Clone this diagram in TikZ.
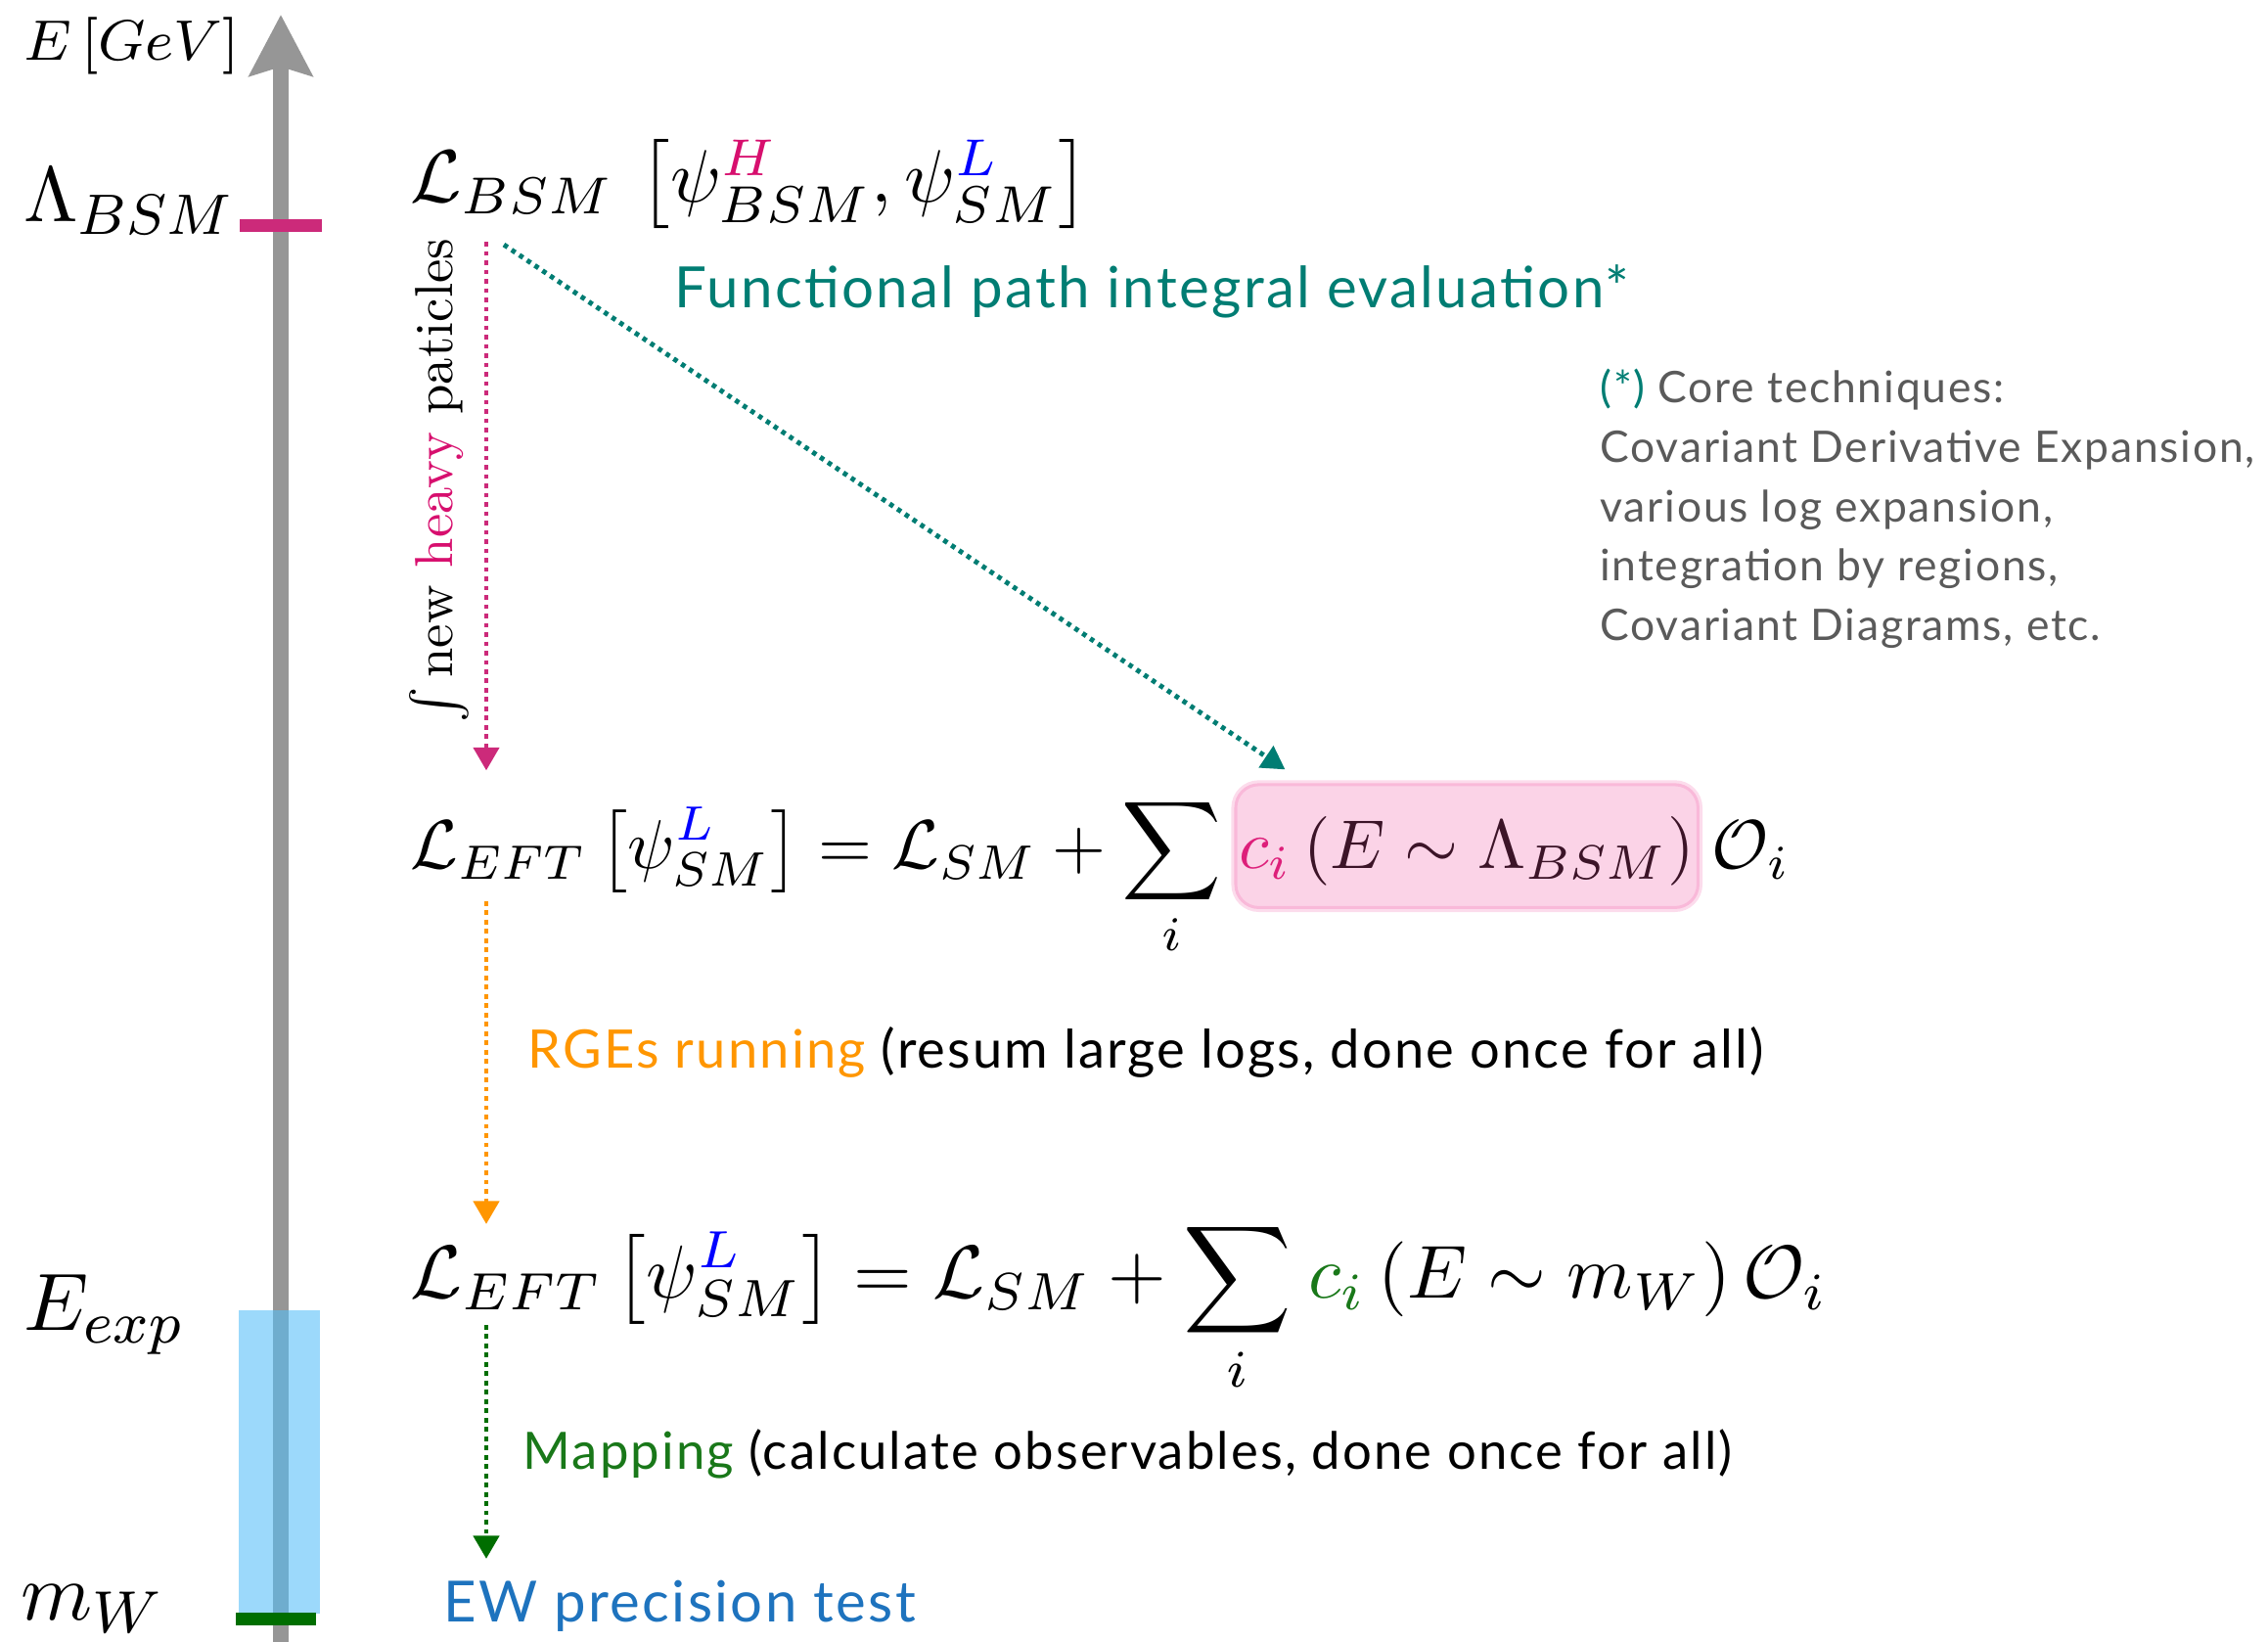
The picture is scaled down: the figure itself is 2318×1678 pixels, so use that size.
\documentclass[tikz,border=0pt]{standalone}
\usepackage{fontspec}
\usepackage{graphicx}
\newfontfamily\handfont[LetterSpace=4]{Lato}
\usetikzlibrary{arrows.meta,calc}
\definecolor{axisgray}{RGB}{150,150,150}
\definecolor{magbar}{RGB}{204,42,122}
\definecolor{hmag}{RGB}{215,15,110}
\definecolor{lblue}{RGB}{0,0,255}
\definecolor{tealc}{RGB}{0,125,115}
\definecolor{orng}{RGB}{255,150,0}
\definecolor{dgreen}{RGB}{0,110,0}
\definecolor{mgreen}{RGB}{25,120,25}
\definecolor{ewblue}{RGB}{30,115,190}
\definecolor{txtgray}{RGB}{90,90,90}
\definecolor{skyblue}{RGB}{84,190,248}
\definecolor{boxpink}{RGB}{240,80,160}
\begin{document}
\begin{tikzpicture}[x=0.1316pt,y=-0.1316pt,
  hand/.style={font=\handfont\fontsize{7.66}{9}\selectfont, inner sep=0, anchor=base west},
  corel/.style={font=\handfont\fontsize{5.85}{8}\selectfont, inner sep=0, anchor=base west, text=txtgray},
  mathn/.style={inner sep=0, anchor=base west},
  smallf/.style={mathn, scale=0.93, transform shape},
  lbl/.style={inner sep=0, anchor=base west, font=\fontsize{10.95}{13}\selectfont},
  dotarrow/.style={line width=0.65pt, dash pattern=on 0.6pt off 0.65pt, -{Triangle[width=3.4pt,length=3.1pt]}},
]
\useasboundingbox (0,0) rectangle (2318,1678);
% energy axis
\draw[axisgray, line width=2pt, -{Stealth[width=8.4pt,length=8.2pt,inset=1.2pt]}] (287,1678) -- (287,15);
\fill[magbar] (245,224) rectangle (329,237);
\fill[skyblue, fill opacity=0.58] (244,1339) rectangle (327,1649);
\fill[dgreen] (241,1648) rectangle (323,1661);
% axis labels
\node[mathn, font=\footnotesize, scale=0.96, transform shape] (egev) at (23,62) {$E\,[GeV]$};
\node[lbl, scale=0.96, transform shape] (lbsm) at (23,227) {$\Lambda_{BSM}$};
\node[lbl] (eexp) at (23,1360) {$E_{exp}$};
\node[lbl] (mw) at (20,1656) {$m_W$};
% formulas
\node[mathn] (bsm) at (418,207) {$\mathcal{L}_{BSM}\,\left[\psi_{BSM}^{\textcolor{hmag}{H}},\psi_{SM}^{\textcolor{lblue}{L}}\right]$};
\node[smallf] (eft1) at (418,888) {$\displaystyle\mathcal{L}_{EFT}\left[\psi_{SM}^{\textcolor{lblue}{L}}\right]=\mathcal{L}_{SM}+\sum_i$};
\node[smallf, inner xsep=0.5pt, text height=12.2pt, text depth=5.6pt] (ci1) at ([xshift=1.5pt]eft1.base east) {$\textcolor{hmag}{c_i}\left(E\sim\Lambda_{BSM}\right)$};
\node[smallf] (oi1) at ([xshift=1.5pt]ci1.base east) {$\mathcal{O}_i$};
\path[fill=boxpink, fill opacity=0.25, draw=boxpink, draw opacity=0.2, line width=0.8pt, rounded corners=3.3pt] (ci1.south west) rectangle (ci1.north east);
\node[mathn, scale=1.01, transform shape] (eft2) at (418,1327) {$\displaystyle\mathcal{L}_{EFT}\left[\psi_{SM}^{\textcolor{lblue}{L}}\right]=\mathcal{L}_{SM}+\sum_i\mkern1mu\textcolor{mgreen}{c_i}\left(E\sim m_W\right)\mathcal{O}_i$};
% rotated label
\node[rotate=90, anchor=base, inner sep=0, font=\normalsize, scale=0.72, transform shape] (heavy) at (463,491) {$\int$\,new \textcolor{hmag}{heavy} paticles};
% texts
\node[hand, text=tealc] (fpi) at (688,315) {Functional path integral evaluation*};
\node[corel] (core1) at (1634,412) {\textcolor{tealc}{(*)} Core techniques:};
\node[corel] (core2) at (1634,473) {Covariant Derivative Expansion,};
\node[corel] (core3) at (1634,534) {various log expansion,};
\node[corel] (core4) at (1634,594) {integration by regions,};
\node[corel] (core5) at (1634,655) {Covariant Diagrams, etc.};
\node[hand, font=\handfont\fontsize{7.14}{9}\selectfont] (rge) at (538,1092) {\textcolor{orng}{RGEs running} (resum large logs, done once for all)};
\node[hand, font=\handfont\fontsize{6.93}{9}\selectfont] (map) at (533,1502) {\textcolor{mgreen}{Mapping} (calculate observables, done once for all)};
\node[hand, text=ewblue, font=\handfont\fontsize{7.64}{9}\selectfont] (ew) at (452,1658) {EW precision test};
% connectors
\draw[dotarrow, magbar] ($(bsm.south west)+(79,12)$) -- ($(eft1.north west)+(79,-25)$);
\draw[dotarrow, tealc] ($(bsm.south west)+(97,15)$) -- ($(ci1.north west)+(52,-14)$);
\draw[dotarrow, orng] ($(eft1.base west)+(79,33)$) -- ($(eft2.base west)+(79,-76)$);
\draw[dotarrow, dgreen] ($(eft2.base west)+(79,27)$) -- ($(ew.base west)+(45,-65)$);
\end{tikzpicture}
\end{document}
